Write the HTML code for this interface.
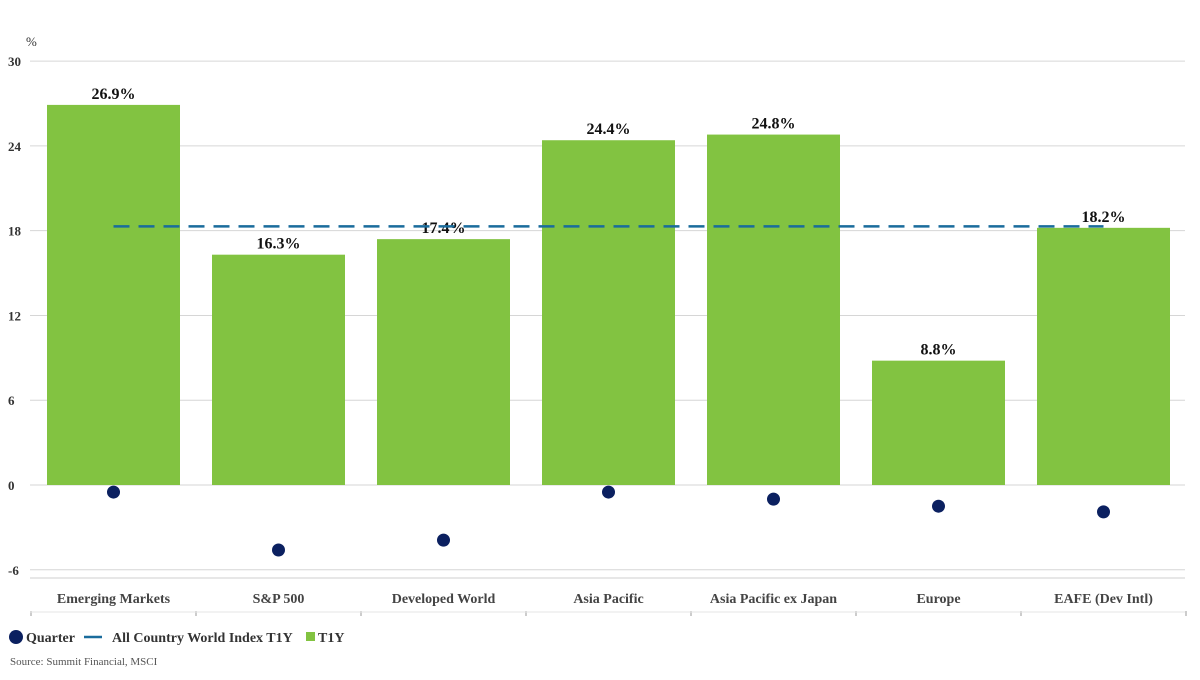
<!DOCTYPE html>
<html><head><meta charset="utf-8"><style>
body{margin:0;background:#fff;}
svg text{font-family:"Liberation Serif",serif;}
</style></head><body>
<svg width="1200" height="675" xmlns="http://www.w3.org/2000/svg">
<g id="grid"></g>
<line x1="30" y1="578" x2="1185" y2="578" stroke="#cfcfcf"/>
<g id="yt"></g>
<text x="26" y="46" font-size="13" fill="#333">%</text>
<g id="bars"></g>
<g id="vals"></g>
<line id="acwi" stroke="#1a6c9c" stroke-width="2.5" stroke-dasharray="16,9"/>
<g id="dots"></g>
<g id="xl"></g>
<line x1="30" y1="612" x2="1185" y2="612" stroke="#e6e6e6"/>
<g>
<circle cx="16" cy="637" r="7" fill="#0b2060"/>
<text x="26" y="642" font-size="14" font-weight="bold" fill="#333">Quarter</text>
<line x1="84" y1="637" x2="102" y2="637" stroke="#1a6c9c" stroke-width="2.5"/>
<text x="112" y="642" font-size="14" font-weight="bold" fill="#333">All Country World Index T1Y</text>
<rect x="306" y="632" width="9" height="9" fill="#82c341"/>
<text x="318" y="642" font-size="14" font-weight="bold" fill="#333">T1Y</text>
</g>
<text x="10" y="665" font-size="11" fill="#555">Source: Summit Financial, MSCI</text>
</svg>
<script>
const categories=["Emerging Markets","S&P 500","Developed World","Asia Pacific","Asia Pacific ex Japan","Europe","EAFE (Dev Intl)"];
const t1y=[26.9,16.3,17.4,24.4,24.8,8.8,18.2];
const quarter=[-0.5,-4.6,-3.9,-0.5,-1.0,-1.5,-1.9];
const acwi=[18.3];
const yTicks=[30,24,18,12,6,0,-6];
const NS="http://www.w3.org/2000/svg";
const y=v=>485-v*14.13;
const left=31,step=165;
const cx=i=>left+step*i+step/2;
function mk(t,a,p,txt){const e=document.createElementNS(NS,t);for(const k in a)e.setAttribute(k,a[k]);if(txt!=null)e.textContent=txt;p.appendChild(e);return e;}
const grid=document.getElementById('grid'),yt=document.getElementById('yt');
yTicks.forEach(v=>{
 const l=mk('line',{x1:30,x2:1185,y1:y(v),y2:y(v),stroke:'#d6d6d6'},grid);
 
 
 const t=mk('text',{x:8,y:y(v)+5,'font-size':13,'font-weight':'bold',fill:'#333'},yt,String(v));
 
 
});
const bars=document.getElementById('bars'),vals=document.getElementById('vals'),dots=document.getElementById('dots'),xl=document.getElementById('xl');
categories.forEach((c,i)=>{
 const b=mk('rect',{x:cx(i)-66.5,width:133,y:y(t1y[i]),height:y(0)-y(t1y[i]),fill:'#82c341'},bars);
 
 
 const t=mk('text',{x:cx(i),y:y(t1y[i])-6,'text-anchor':'middle','font-size':16,'font-weight':'bold',fill:'#111'},vals,t1y[i].toFixed(1)+'%');
 
 
 const d=mk('circle',{cx:cx(i),cy:y(quarter[i]),r:6.5,fill:'#0b2060'},dots);
 
 
 const l=mk('text',{x:cx(i),y:603,'text-anchor':'middle','font-size':14,'font-weight':'bold',fill:'#444'},xl,c);
 
 
});
for(let i=0;i<=7;i++){const k=mk('line',{x1:left+step*i,x2:left+step*i,y1:611,y2:616,stroke:'#999'},xl);
 
 }
const a=document.getElementById('acwi');
a.setAttribute('x1',cx(0));a.setAttribute('x2',cx(6));a.setAttribute('y1',y(acwi[0]));a.setAttribute('y2',y(acwi[0]));
</script>
</body></html>
